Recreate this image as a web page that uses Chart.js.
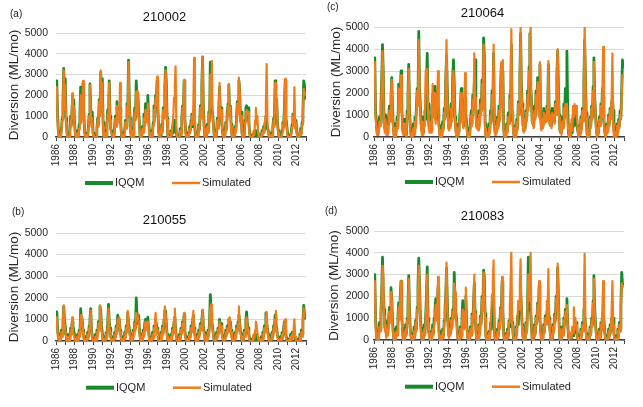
<!DOCTYPE html>
<html>
<head>
<meta charset="utf-8">
<script src="https://cdn.jsdelivr.net/npm/chart.js@4.4.0/dist/chart.umd.min.js"></script>
<style>
body { margin: 0; background: #fff; width: 643px; height: 407px; overflow: hidden; position: relative; font-family: 'Liberation Sans', Arial, sans-serif; }
canvas { position: absolute; }
.tag { position: absolute; font-size: 10px; color: #222; line-height: 10px; }
</style>
</head>
<body>
<canvas id="ca" width="329" height="203" style="left:0px;top:0px"></canvas>
<canvas id="cb" width="329" height="203" style="left:0px;top:204px"></canvas>
<canvas id="cc" width="321" height="203" style="left:322px;top:0px"></canvas>
<canvas id="cd" width="321" height="203" style="left:322px;top:204px"></canvas>
<div class="tag" style="left:10px;top:9px">(a)</div>
<div class="tag" style="left:12px;top:207px">(b)</div>
<div class="tag" style="left:327px;top:2px">(c)</div>
<div class="tag" style="left:325px;top:206px">(d)</div>
<script>
// monthly diversions, one row per year, Jan 1986 .. Dec 2012 (ML/mo)
const a_iqqm = [
  1800, 2700, 1100, 300, 0, 200, 0, 400, 900, 1700, 3300, 1600,
  2800, 900, 300, 0, 100, 0, 300, 1000, 600, 1500, 1100, 1800,
  700, 200, 0, 0, 300, 100, 600, 1200, 2400, 900, 1400, 2600,
  1300, 300, 0, 0, 200, 0, 500, 1100, 2550, 1400, 700, 1200,
  200, 0, 0, 100, 0, 400, 900, 600, 1800, 1200, 3100, 1500,
  2800, 700, 100, 0, 300, 0, 600, 1300, 900, 2700, 1000, 400,
  300, 0, 200, 0, 500, 1000, 600, 1700, 800, 1400, 900, 1400,
  600, 0, 0, 200, 0, 300, 800, 500, 1600, 1200, 3700, 1800,
  900, 200, 0, 400, 100, 800, 1400, 900, 2700, 1500, 2100, 1300,
  700, 0, 200, 0, 500, 300, 1100, 600, 1600, 800, 1300, 2000,
  900, 300, 0, 0, 300, 100, 700, 1500, 900, 2000, 1600, 2700,
  1500, 300, 0, 100, 0, 600, 300, 1400, 1000, 2400, 3350, 2600,
  900, 0, 0, 100, 0, 300, 100, 500, 200, 800, 400, 600,
  200, 0, 0, 100, 0, 400, 200, 900, 1500, 1000, 2700, 900,
  300, 0, 0, 200, 100, 500, 300, 800, 1100, 500, 900, 700,
  400, 0, 0, 200, 0, 600, 400, 1500, 1000, 2500, 3850, 1400,
  500, 0, 200, 0, 600, 300, 1200, 800, 3600, 1500, 1300, 1100,
  600, 100, 0, 300, 100, 900, 500, 1400, 2400, 1000, 1400, 700,
  200, 0, 300, 100, 700, 400, 1200, 1600, 2500, 1100, 1500, 600,
  100, 0, 200, 0, 500, 300, 1000, 1700, 1200, 2700, 2300, 800,
  1200, 200, 0, 300, 100, 800, 1400, 1500, 1300, 1400, 700, 200,
  0, 0, 100, 0, 200, 0, 300, 100, 200, 0, 0, 100,
  0, 100, 0, 300, 200, 500, 300, 700, 1000, 600, 400, 300,
  100, 0, 0, 200, 0, 500, 900, 600, 2700, 1300, 1800, 700,
  300, 0, 0, 100, 0, 300, 700, 500, 1400, 2700, 900, 600,
  200, 0, 0, 100, 0, 300, 600, 1100, 700, 1100, 500, 800,
  300, 0, 0, 100, 0, 400, 200, 700, 1200, 2700, 2500, 1800
];
const a_sim = [
  1700, 2400, 900, 100, 0, 100, 0, 300, 800, 1500, 3200, 1300,
  2500, 700, 200, 0, 0, 0, 200, 800, 500, 2100, 900, 1500,
  600, 100, 0, 0, 200, 0, 400, 1000, 2000, 700, 1200, 2700,
  1100, 200, 0, 0, 100, 0, 400, 1000, 2500, 1200, 500, 900,
  100, 0, 0, 0, 0, 300, 800, 500, 1700, 1000, 3200, 1300,
  2600, 500, 0, 0, 200, 0, 400, 1100, 800, 2600, 800, 300,
  200, 0, 100, 0, 400, 900, 500, 1500, 700, 1200, 800, 2600,
  500, 0, 0, 100, 0, 200, 700, 400, 1500, 1100, 3600, 1600,
  800, 100, 0, 300, 0, 700, 1200, 800, 2200, 1200, 2200, 1100,
  600, 0, 100, 0, 400, 200, 900, 500, 1300, 700, 1100, 1600,
  800, 200, 0, 0, 200, 0, 600, 1300, 800, 1900, 1500, 2900,
  1300, 200, 0, 0, 0, 500, 200, 1300, 900, 2300, 3200, 2300,
  800, 0, 0, 0, 0, 200, 100, 600, 1000, 1900, 2500, 3400,
  400, 0, 0, 0, 0, 300, 100, 800, 1400, 900, 2750, 800,
  200, 0, 0, 100, 0, 400, 200, 700, 1000, 600, 1500, 3800,
  600, 0, 0, 100, 0, 500, 300, 1400, 900, 2400, 3850, 1200,
  400, 0, 100, 0, 500, 200, 1100, 700, 3000, 1400, 3650, 1000,
  500, 0, 0, 200, 0, 800, 400, 1300, 2600, 900, 1300, 600,
  100, 0, 200, 0, 600, 300, 1100, 1500, 2550, 1000, 1400, 500,
  0, 0, 100, 0, 400, 200, 900, 1600, 1100, 2850, 2300, 700,
  1000, 100, 0, 200, 0, 700, 1200, 1300, 1100, 1200, 500, 100,
  0, 0, 0, 0, 300, 100, 800, 1400, 600, 1000, 200, 0,
  0, 0, 0, 200, 100, 400, 200, 900, 1500, 3500, 800, 300,
  0, 0, 0, 100, 0, 400, 800, 500, 2600, 1200, 1900, 600,
  200, 0, 0, 0, 0, 200, 600, 400, 1300, 2800, 800, 500,
  100, 0, 0, 0, 0, 200, 500, 1000, 600, 2400, 400, 700,
  200, 0, 0, 0, 0, 300, 100, 600, 1100, 2300, 2000, 2200
];
const b_iqqm = [
  900, 1350, 600, 200, 0, 300, 100, 500, 300, 900, 1600, 1000,
  700, 300, 0, 200, 0, 300, 100, 600, 400, 900, 700, 500,
  300, 0, 100, 0, 300, 100, 500, 300, 1500, 900, 1000, 500,
  200, 0, 0, 200, 0, 400, 200, 700, 1000, 1500, 500, 200,
  0, 100, 0, 300, 100, 500, 300, 900, 600, 1600, 1400, 700,
  400, 0, 0, 200, 0, 400, 200, 800, 1700, 900, 600, 200,
  100, 0, 200, 0, 400, 200, 700, 400, 1200, 800, 1000, 500,
  300, 0, 0, 200, 0, 400, 200, 700, 500, 1300, 800, 600,
  300, 0, 200, 0, 500, 300, 900, 600, 2000, 1200, 800, 1200,
  600, 200, 0, 300, 100, 500, 300, 800, 1000, 600, 900, 1100,
  500, 100, 0, 200, 0, 400, 200, 700, 500, 1000, 800, 600,
  300, 0, 100, 0, 400, 200, 700, 400, 1000, 1400, 1400, 800,
  300, 0, 0, 200, 0, 300, 100, 600, 400, 900, 1100, 600,
  200, 0, 100, 0, 300, 100, 600, 400, 900, 700, 1200, 500,
  200, 0, 0, 200, 0, 400, 200, 700, 500, 900, 1200, 600,
  300, 100, 0, 300, 100, 500, 300, 800, 600, 1000, 1400, 700,
  400, 100, 0, 300, 100, 500, 300, 900, 2150, 1300, 900, 600,
  300, 0, 200, 0, 400, 200, 600, 400, 1000, 600, 800, 400,
  200, 0, 200, 100, 500, 300, 700, 500, 1000, 700, 900, 500,
  200, 0, 100, 0, 400, 200, 700, 500, 900, 1200, 900, 500,
  300, 0, 200, 100, 500, 300, 900, 1350, 800, 600, 300, 100,
  0, 0, 100, 0, 200, 0, 300, 100, 200, 0, 100, 0,
  0, 0, 200, 0, 400, 200, 700, 500, 1300, 800, 600, 300,
  100, 0, 100, 0, 400, 200, 700, 500, 1200, 800, 600, 300,
  100, 0, 0, 200, 0, 400, 200, 600, 900, 500, 300, 100,
  0, 0, 100, 0, 300, 100, 400, 200, 400, 300, 100, 0,
  0, 0, 100, 0, 300, 100, 500, 300, 900, 1650, 1300, 1000
];
const b_sim = [
  700, 1100, 400, 100, 0, 200, 0, 400, 200, 800, 1650, 800,
  500, 200, 0, 100, 0, 200, 0, 500, 300, 1100, 500, 300,
  200, 0, 0, 0, 200, 0, 400, 200, 1200, 700, 1100, 400,
  100, 0, 0, 100, 0, 300, 100, 600, 900, 1400, 400, 100,
  0, 0, 0, 200, 0, 400, 200, 800, 500, 1650, 1200, 500,
  300, 0, 0, 100, 0, 300, 100, 700, 1500, 800, 400, 100,
  0, 0, 100, 0, 300, 100, 600, 300, 1000, 700, 1100, 400,
  200, 0, 0, 100, 0, 300, 100, 600, 400, 1400, 700, 500,
  200, 0, 100, 0, 400, 200, 800, 500, 1300, 1000, 1200, 900,
  500, 100, 0, 200, 0, 400, 200, 700, 900, 500, 800, 900,
  400, 0, 0, 100, 0, 300, 100, 600, 400, 1300, 700, 500,
  200, 0, 0, 0, 300, 100, 600, 300, 1100, 1600, 1200, 700,
  200, 0, 0, 100, 0, 200, 0, 500, 300, 1000, 1500, 500,
  100, 0, 0, 0, 200, 0, 500, 300, 800, 600, 1300, 400,
  100, 0, 0, 100, 0, 300, 100, 600, 400, 800, 1400, 500,
  200, 0, 0, 200, 0, 400, 200, 700, 500, 900, 1450, 600,
  300, 0, 0, 200, 0, 400, 200, 800, 1500, 1700, 800, 500,
  200, 0, 100, 0, 300, 100, 500, 300, 900, 500, 700, 300,
  100, 0, 100, 0, 400, 200, 600, 400, 900, 1100, 800, 400,
  100, 0, 0, 0, 300, 100, 600, 400, 800, 1600, 800, 400,
  200, 0, 100, 0, 400, 200, 800, 1100, 700, 500, 200, 0,
  0, 0, 0, 0, 300, 100, 500, 900, 700, 400, 100, 0,
  0, 0, 100, 0, 300, 100, 600, 400, 1000, 1350, 500, 200,
  0, 0, 0, 0, 300, 100, 600, 400, 1000, 1400, 500, 200,
  0, 0, 0, 100, 0, 300, 100, 500, 800, 1000, 200, 0,
  0, 0, 0, 0, 200, 0, 300, 100, 600, 1000, 200, 0,
  0, 0, 0, 0, 200, 0, 400, 200, 800, 1500, 1100, 1100
];
const c_iqqm = [
  2400, 3600, 1200, 700, 200, 500, 300, 900, 600, 1500, 2600, 4200,
  3000, 800, 400, 1000, 300, 700, 200, 900, 1400, 800, 1700, 2700,
  1300, 500, 100, 600, 0, 400, 900, 500, 2400, 1300, 1800, 3000,
  1500, 400, 200, 800, 300, 600, 100, 1200, 1900, 3300, 1400, 500,
  100, 300, 0, 600, 200, 900, 500, 1400, 2200, 1600, 4800, 2200,
  1500, 600, 300, 900, 200, 700, 1200, 800, 2400, 3800, 1500, 600,
  400, 900, 300, 1300, 1900, 1100, 2300, 1400, 800, 1700, 2100, 1300,
  700, 200, 0, 500, 100, 700, 400, 1300, 900, 2600, 3700, 2200,
  900, 400, 1000, 500, 1500, 900, 2700, 3500, 2400, 900, 400, 100,
  0, 600, 200, 900, 1400, 2200, 1300, 800, 500, 1300, 1800, 1000,
  700, 200, 0, 400, 100, 700, 1200, 600, 1900, 1400, 2400, 3500,
  1200, 500, 900, 400, 1200, 700, 1700, 1200, 2600, 1500, 4500, 3700,
  600, 100, 0, 400, 100, 600, 300, 1200, 700, 2100, 1500, 3800,
  600, 200, 700, 300, 900, 500, 1400, 800, 2200, 3300, 1600, 3000,
  400, 0, 300, 100, 600, 300, 1100, 700, 1900, 1200, 4200, 1000,
  700, 200, 0, 500, 100, 800, 400, 1600, 1100, 2700, 4700, 2400,
  1500, 600, 300, 900, 400, 1200, 800, 2100, 1400, 3200, 4700, 2200,
  1800, 700, 1200, 500, 1400, 900, 2100, 1500, 2700, 1600, 1000, 3300,
  900, 400, 900, 500, 1300, 700, 1100, 800, 1400, 900, 3300, 1200,
  600, 1000, 500, 1300, 900, 1100, 700, 1600, 1100, 2800, 3900, 2300,
  1000, 300, 700, 200, 900, 500, 1500, 900, 2200, 1600, 3900, 1400,
  200, 0, 300, 0, 600, 200, 900, 500, 1000, 600, 800, 500,
  300, 100, 500, 200, 900, 400, 1300, 800, 2600, 4400, 2800, 1100,
  200, 0, 400, 100, 900, 500, 1400, 900, 2300, 3600, 1900, 1100,
  400, 100, 500, 200, 900, 600, 1500, 1000, 2200, 1800, 800, 300,
  0, 200, 600, 300, 1000, 600, 1300, 900, 1500, 1800, 1200, 300,
  0, 300, 100, 600, 200, 800, 500, 1200, 900, 2100, 3500, 3100
];
const c_sim = [
  2600, 3400, 900, 500, 100, 300, 100, 700, 500, 1300, 2400, 3900,
  2800, 600, 200, 800, 100, 500, 100, 700, 1200, 700, 2000, 2600,
  1100, 300, 0, 400, 0, 300, 700, 400, 2200, 1100, 1600, 2800,
  1400, 300, 100, 600, 100, 500, 0, 1000, 1800, 3100, 1200, 300,
  0, 100, 0, 400, 100, 700, 400, 1300, 2100, 1400, 4400, 2000,
  1300, 400, 100, 700, 100, 500, 1100, 3000, 2000, 3100, 1200, 400,
  200, 700, 200, 1100, 2400, 900, 2000, 1200, 600, 1500, 2000, 3000,
  500, 100, 0, 300, 0, 500, 300, 1100, 800, 2500, 4400, 1800,
  700, 300, 800, 400, 1300, 700, 2400, 3000, 2100, 700, 200, 0,
  0, 400, 100, 700, 1200, 2000, 1100, 600, 400, 1200, 2900, 800,
  500, 100, 0, 200, 0, 500, 1000, 500, 1700, 1200, 3800, 1800,
  1000, 400, 800, 300, 1000, 500, 1500, 1000, 2400, 1300, 4200, 3200,
  400, 0, 0, 200, 0, 400, 200, 1000, 600, 1900, 1300, 4200,
  500, 100, 500, 200, 800, 400, 1200, 700, 2000, 3400, 1400, 3500,
  300, 0, 200, 0, 500, 200, 900, 600, 1700, 1100, 4900, 1200,
  600, 100, 0, 400, 0, 700, 300, 1500, 1000, 2600, 5000, 2200,
  1300, 500, 200, 800, 300, 1100, 700, 1900, 1200, 3000, 4500, 5000,
  1600, 600, 1000, 400, 1200, 800, 1900, 1300, 2500, 1400, 900, 3400,
  800, 300, 800, 400, 1100, 600, 1000, 700, 1300, 800, 3450, 1000,
  500, 900, 400, 1100, 800, 1000, 600, 1500, 1000, 2700, 4000, 2200,
  900, 200, 500, 100, 700, 400, 1300, 800, 1500, 1100, 1500, 600,
  300, 0, 400, 100, 800, 300, 1400, 900, 1500, 1100, 1400, 800,
  400, 0, 400, 100, 800, 300, 1200, 700, 2400, 5000, 2600, 900,
  100, 0, 300, 0, 800, 400, 1300, 800, 2100, 3400, 1800, 1000,
  300, 0, 400, 100, 800, 500, 1400, 900, 2000, 4100, 700, 200,
  0, 100, 500, 200, 900, 500, 1200, 800, 1800, 3800, 600, 0,
  0, 200, 0, 500, 100, 700, 400, 1000, 800, 1900, 2800, 2700
];
const d_iqqm = [
  1700, 3000, 1000, 300, 0, 400, 100, 800, 500, 1300, 2200, 3800,
  2300, 1400, 600, 900, 200, 700, 300, 1000, 1500, 900, 2400, 1900,
  900, 300, 0, 500, 100, 600, 300, 1100, 1700, 1000, 2000, 2700,
  1200, 400, 0, 500, 100, 700, 300, 1000, 1600, 2950, 1400, 500,
  200, 0, 300, 0, 600, 200, 900, 500, 1500, 2500, 3750, 2500,
  1200, 500, 0, 500, 100, 700, 300, 1100, 2000, 3350, 1000, 400,
  200, 0, 400, 100, 700, 300, 1000, 1400, 1900, 1100, 1500, 2400,
  600, 0, 0, 400, 0, 500, 200, 900, 1400, 2100, 3300, 1800,
  700, 200, 600, 300, 1000, 600, 1400, 1000, 3100, 1900, 1300, 1000,
  400, 0, 300, 0, 600, 200, 1000, 1800, 1100, 600, 1400, 2000,
  900, 300, 0, 400, 0, 600, 300, 1200, 800, 1700, 2600, 1300,
  500, 0, 300, 100, 700, 300, 1100, 800, 2000, 1400, 3200, 2900,
  1200, 200, 0, 300, 0, 400, 100, 800, 500, 1400, 1000, 2200,
  400, 0, 100, 0, 500, 200, 900, 600, 1500, 1100, 2700, 1400,
  300, 0, 0, 300, 0, 500, 200, 900, 600, 1100, 1300, 800,
  400, 0, 200, 0, 600, 300, 1100, 700, 1600, 1200, 2200, 1500,
  700, 200, 0, 400, 100, 800, 400, 1500, 3800, 2000, 1500, 1300,
  600, 0, 300, 0, 700, 300, 1100, 800, 1700, 1200, 2500, 1000,
  400, 0, 300, 100, 700, 400, 1100, 800, 1300, 1000, 1500, 1000,
  500, 100, 300, 0, 700, 400, 1200, 900, 2000, 1500, 3300, 2000,
  600, 0, 300, 0, 600, 300, 1000, 700, 1400, 1100, 1900, 800,
  200, 0, 0, 200, 0, 400, 200, 400, 300, 600, 800, 500,
  100, 0, 200, 0, 500, 200, 800, 500, 1400, 1100, 800, 300,
  0, 0, 200, 0, 600, 300, 1000, 700, 1800, 2950, 1500, 800,
  300, 0, 200, 0, 500, 200, 800, 500, 1100, 700, 900, 400,
  100, 0, 200, 0, 500, 200, 700, 400, 1000, 700, 1000, 300,
  0, 0, 200, 0, 500, 200, 800, 500, 1600, 3100, 2600, 2500
];
const d_sim = [
  1600, 2700, 800, 100, 0, 300, 0, 600, 400, 1200, 2000, 3400,
  2900, 1100, 400, 700, 100, 500, 200, 900, 1300, 800, 2200, 2000,
  700, 200, 0, 300, 0, 400, 200, 1000, 1500, 900, 1800, 2700,
  1000, 300, 0, 300, 0, 500, 200, 900, 1500, 2800, 1200, 300,
  100, 0, 200, 0, 400, 100, 800, 400, 1400, 2300, 3400, 2500,
  1000, 300, 0, 300, 0, 500, 200, 900, 1800, 3000, 800, 200,
  100, 0, 300, 0, 500, 200, 800, 1200, 1600, 900, 1400, 2900,
  400, 0, 0, 200, 0, 400, 100, 800, 1300, 2000, 3550, 1500,
  500, 100, 400, 200, 900, 500, 1300, 900, 2600, 2200, 1200, 800,
  300, 0, 200, 0, 500, 100, 900, 1400, 900, 500, 1300, 2400,
  800, 200, 0, 300, 0, 500, 200, 1100, 700, 1600, 3000, 1200,
  400, 0, 200, 0, 600, 200, 1000, 700, 1900, 1300, 3100, 2500,
  1000, 100, 0, 200, 0, 300, 0, 700, 1300, 2100, 2700, 3650,
  300, 0, 0, 0, 400, 100, 800, 500, 1400, 1000, 2900, 1200,
  200, 0, 0, 200, 0, 400, 100, 800, 1500, 2600, 4000, 700,
  300, 0, 100, 0, 500, 200, 1000, 1800, 1400, 2600, 3700, 1400,
  600, 100, 0, 300, 0, 700, 300, 1300, 3000, 1800, 2700, 4000,
  500, 0, 200, 0, 600, 200, 1000, 700, 1600, 1100, 2700, 900,
  300, 0, 200, 0, 600, 300, 1000, 700, 1800, 1500, 3250, 900,
  400, 0, 200, 0, 600, 300, 1100, 800, 1900, 1400, 3500, 2000,
  500, 0, 200, 0, 500, 200, 900, 600, 1300, 1000, 1600, 700,
  200, 0, 0, 300, 100, 600, 300, 1500, 500, 1000, 700, 400,
  0, 0, 100, 0, 400, 100, 700, 400, 1800, 3950, 800, 200,
  0, 0, 100, 0, 500, 200, 900, 600, 1700, 2800, 1400, 700,
  200, 0, 100, 0, 400, 100, 700, 400, 1500, 2700, 600, 300,
  0, 0, 100, 0, 400, 100, 600, 300, 1400, 2700, 700, 200,
  0, 0, 100, 0, 400, 100, 700, 400, 1500, 2600, 2400, 2500
];

const firstYear = 1986;
const lastYear = 2013;
const months = a_iqqm.map((v, i) => firstYear + i / 12);
const seriesNames = ['IQQM', 'Simulated'];
const yAxisTitle = 'Diversion (ML/mo)';

const green = '#178a2c';
const orange = '#f07d1a';
const textCol = '#262626';
const fam = "'Liberation Sans', Arial, sans-serif";

Chart.defaults.font.family = fam;
Chart.defaults.color = textCol;

// legend drawn as line swatches under the plot, like the original figure
const lineLegend = {
  id: 'lineLegend',
  afterDraw(chart, args, opts) {
    const {ctx, chartArea} = chart;
    const y = chartArea.bottom + opts.dy;
    ctx.save();
    ctx.font = '11px ' + fam;
    ctx.textBaseline = 'middle';
    ctx.textAlign = 'left';
    opts.items.forEach(it => {
      const x = chartArea.left + it.dx;
      ctx.strokeStyle = it.color;
      ctx.lineWidth = it.width;
      ctx.beginPath();
      ctx.moveTo(x, y);
      ctx.lineTo(x + 28, y);
      ctx.stroke();
      ctx.fillStyle = textCol;
      ctx.fillText(it.text, x + 30, y);
    });
    ctx.restore();
  }
};

function pts(vals) {
  return vals.map((v, i) => ({x: months[i], y: v}));
}

function makeChart(id, title, iqqm, sim, p) {
  const ctx = document.getElementById(id).getContext('2d');
  return new Chart(ctx, {
    type: 'line',
    data: {
      datasets: [
        { label: seriesNames[1], data: pts(sim), borderColor: orange, backgroundColor: orange,
          borderWidth: 2.2, pointRadius: 0, borderJoinStyle: 'round', tension: 0 },
        { label: seriesNames[0], data: pts(iqqm), borderColor: green, backgroundColor: green,
          borderWidth: 2.8, pointRadius: 0, borderJoinStyle: 'round', tension: 0 }
      ]
    },
    plugins: [lineLegend],
    options: {
      responsive: false,
      animation: false,
      layout: { padding: { left: 0, right: 0, top: 0, bottom: p.padB } },
      plugins: {
        tooltip: { enabled: false },
        legend: { display: false },
        title: {
          display: true, text: title, color: '#111',
          font: { size: 13, weight: 'normal' },
          padding: { top: p.tTop, bottom: p.tBot }
        },
        lineLegend: {
          dy: p.legY,
          items: [
            { text: seriesNames[0], color: green, width: 4, dx: p.legX },
            { text: seriesNames[1], color: orange, width: 2.5, dx: p.legX + 87 }
          ]
        }
      },
      scales: {
        x: {
          type: 'linear', min: firstYear, max: lastYear,
          afterFit(s) { s.height = 31; },
          ticks: {
            stepSize: 1, autoSkip: false, maxRotation: 90, minRotation: 90,
            padding: 3, color: textCol, font: { size: 10 },
            callback: v => (v % 2 === 0 && v < lastYear) ? String(v) : ''
          },
          grid: { display: true, drawOnChartArea: false, drawTicks: true, tickLength: 4, color: '#404040' },
          border: { display: true, color: '#404040', width: 1.5 }
        },
        y: {
          min: 0, max: 5000,
          afterFit(s) { s.width = p.yW; },
          ticks: { stepSize: 1000, padding: p.yPad, color: textCol, font: { size: 10.5 }, callback: v => String(v) },
          grid: { color: '#d9d9d9', drawTicks: false },
          border: { display: false },
          title: { display: true, text: yAxisTitle, color: textCol, font: { size: 13.5 },
                   padding: { top: p.yT, bottom: 0 } }
        },
        y2: {
          position: 'right', display: true,
          afterFit(s) { s.width = p.rW; },
          ticks: { display: false }, grid: { display: false }, border: { display: false }
        }
      }
    }
  });
}

makeChart('ca', '210002', a_iqqm, a_sim, { padB: 35, tTop: 10, tBot: 7.4, yW: 56, yPad: 8, yT: 6.4, rW: 23, legX: 29, legY: 46 });
makeChart('cb', '210055', b_iqqm, b_sim, { padB: 35, tTop: 8.2, tBot: 5.2, yW: 56, yPad: 8, yT: 6.4, rW: 23, legX: 30, legY: 46.7 });
makeChart('cc', '210064', c_iqqm, c_sim, { padB: 35, tTop: 5.5, tBot: 5.9, yW: 52, yPad: 5, yT: 6.2, rW: 19, legX: 31, legY: 45 });
makeChart('cd', '210083', d_iqqm, d_sim, { padB: 36, tTop: 4.9, tBot: 6.5, yW: 52, yPad: 5, yT: 4.6, rW: 19, legX: 31, legY: 46.7 });
</script>
</body>
</html>
